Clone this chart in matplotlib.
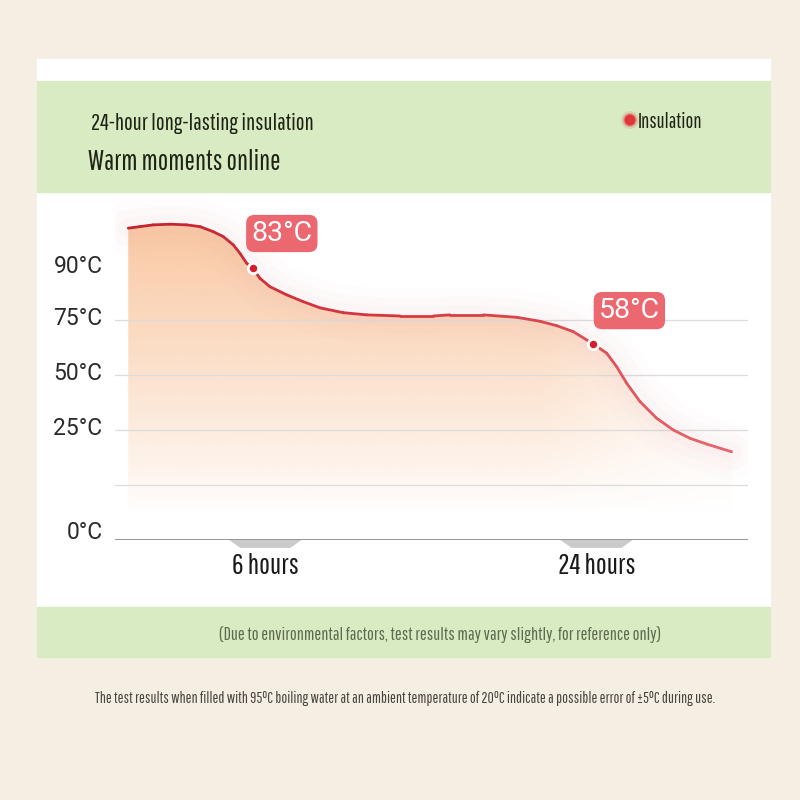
import numpy as np
import matplotlib
matplotlib.use('Agg')
import matplotlib.pyplot as plt
from matplotlib import font_manager
from matplotlib.collections import LineCollection
from matplotlib.colors import LinearSegmentedColormap
from matplotlib.patches import Rectangle, Polygon

# curve (x in hours, y in chart units: grid lines at 25/50/75/100)
hours = [-1.45, -0.82, -0.09, 0.82, 1.72, 2.45, 3.17, 3.71, 4.26, 4.62, 4.98, 5.31,
         5.71, 6.25, 7.16, 8.06, 8.97, 10.23, 11.52, 13.32, 15.13, 16.03, 17.84,
         19.66, 20.92, 21.83, 22.73, 23.82, 24.55, 25.09, 25.64, 26.36, 27.27,
         28.17, 29.08, 29.98, 31.34]
level = [141.7, 142.4, 143.2, 143.5, 143.2, 142.4, 140.1, 137.9, 134.1, 130.3, 125.8, 123.5,
         118.9, 115.1, 111.4, 108.3, 105.5, 103.3, 102.3, 101.8, 101.8, 102.3, 102.3,
         101.2, 99.4, 97.4, 94.7, 89.1, 84.9, 78.8, 71.2, 62.9, 55.3,
         50.0, 46.2, 43.6, 40.1]

grid_levels = [25, 50, 75, 100]
tick_pos = [4.5, 51.8, 76.8, 101.8, 125.4]
tick_labels = ['0°C', '25°C', '50°C', '75°C', '90°C']

x_ticks = [6, 24]
x_labels = ['6 hours', '24 hours']

marks_x = [5.31, 23.82]
marks_y = [123.5, 89.1]
marks_text = ['83°C', '58°C']

# a condensed face, whichever is installed
names = {f.name for f in font_manager.fontManager.ttflist}
cond = 'DejaVu Sans'
for cand in ['Pathway Gothic One', 'Saira Condensed', 'Barlow Condensed', 'Roboto Condensed',
             'Oswald', 'Archivo Narrow', 'PT Sans Narrow']:
    if cand in names:
        cond = cand
        break
plain = 'Roboto' if 'Roboto' in names else 'DejaVu Sans'
plt.rcParams['font.family'] = [cond, 'DejaVu Sans']

fig = plt.figure(figsize=(8, 8), dpi=100)
fig.patch.set_facecolor('#F5EEE3')
renderer = fig.canvas.get_renderer()


def fit(t, width):
    # scale font so the text is `width` pixels wide
    bb = t.get_window_extent(renderer)
    t.set_fontsize(t.get_fontsize() * width / bb.width)


# background layer in pixel coordinates
bg = fig.add_axes([0, 0, 1, 1])
bg.set_xlim(0, 800)
bg.set_ylim(800, 0)
bg.axis('off')
bg.add_patch(Rectangle((37, 59), 733, 598, color='white', zorder=0))
bg.add_patch(Rectangle((37, 81), 733, 111, color='#D8EBC3', zorder=1))
bg.add_patch(Rectangle((37, 607), 733, 50, color='#D8EBC3', zorder=1))

t1 = bg.text(91, 123, '24-hour long-lasting insulation', fontsize=14, color='#1E2414',
             va='center', ha='left')
fit(t1, 224)
t2 = bg.text(88, 162, 'Warm moments online', fontsize=16, color='#1E2414',
             va='center', ha='left')
fit(t2, 194)
for r, a in [(9, 0.12), (7, 0.3), (5.5, 0.85)]:
    bg.add_patch(plt.Circle((630, 120), r, color='#E5242F', alpha=a, lw=0, zorder=2))
t3 = bg.text(638, 122, 'Insulation', fontsize=12, color='#1E2414', va='center', ha='left', zorder=3)
fit(t3, 64)

t4 = bg.text(440, 635, '(Due to environmental factors, test results may vary slightly, for reference only)',
             fontsize=10.5, color='#5F6B4E', va='center', ha='center')
fit(t4, 446)
t5 = bg.text(405, 698, 'The test results when filled with 95°C boiling water at an ambient temperature '
             'of 20°C indicate a possible error of ±5°C during use.',
             fontsize=7.6, color='#4A4440', va='center', ha='center')
fit(t5, 614)

# chart axes
ax = fig.add_axes([115 / 800, 260 / 800, 633 / 800, 340 / 800])
ax.patch.set_alpha(0)
ax.set_xlim(-2.17, 32.23)
ax.set_ylim(0, 154.5)
for s in ax.spines.values():
    s.set_visible(False)
ax.axhline(0, color='#8C8C8C', lw=1.3, zorder=2)
for g in grid_levels:
    ax.axhline(g, color='#DCDCDC', lw=0.9, zorder=2)

ax.set_yticks(tick_pos)
ax.set_yticklabels(tick_labels, family=[plain, 'DejaVu Sans'], fontsize=16.5, color='#2A2A2A')
ax.tick_params(axis='y', length=0, pad=9)
ax.set_xticks(x_ticks)
ax.set_xticklabels(x_labels, fontsize=16, color='#1A1A1A')
ax.tick_params(axis='x', length=0, pad=9)
lab6 = ax.get_xticklabels()[0]
bb = lab6.get_window_extent(renderer)
xs = 16 * 67 / bb.width
for lab in ax.get_xticklabels():
    lab.set_fontsize(xs)

# grey tabs under the x labels
for xt in x_ticks:
    tab = Polygon([(xt - 1.96, 0), (xt + 1.96, 0), (xt + 1.36, -3.6), (xt - 1.36, -3.6)],
                  closed=True, color='#CACACA', lw=0, clip_on=False, zorder=0.5)
    ax.add_patch(tab)

# gradient fill under the curve
X, Y = np.meshgrid(np.linspace(-2.17, 32.23, 300), np.linspace(0, 154.5, 300))
vert = np.clip((Y - 12) / 125, 0, 1) ** 0.85
horiz = np.clip(1 - (X - 21) / 13, 0.3, 1)
img = np.zeros(X.shape + (4,))
img[..., 0] = 249 / 255
img[..., 1] = 194 / 255
img[..., 2] = 152 / 255
img[..., 3] = 0.85 * vert * horiz
im = ax.imshow(img, extent=[-2.17, 32.23, 0, 154.5], origin='lower', aspect='auto', zorder=1)
poly = ax.fill_between(hours, level, 0, color='none', lw=0)
im.set_clip_path(poly.get_paths()[0], transform=ax.transData)

# soft pink haze around the line
for w, a in [(40, 0.025), (26, 0.03), (14, 0.04)]:
    ax.plot(hours, level, color='#F4A0A6', lw=w, alpha=a, solid_capstyle='round', zorder=3)

# line with red to pink gradient
pts = np.column_stack([hours, level])
segs = np.stack([pts[:-1], pts[1:]], axis=1)
cmap = LinearSegmentedColormap.from_list('rp', ['#C3232C', '#D43640', '#E8636B'])
lc = LineCollection(segs, cmap=cmap, lw=2.0, zorder=4, capstyle='round', joinstyle='round')
lc.set_array(np.linspace(0, 1, len(segs)))
ax.add_collection(lc)

# points and value boxes
ax.scatter(marks_x, marks_y, s=55, color='#D21F2C', edgecolor='white', lw=2, zorder=5)
offsets = [(-1, 25), (4, 24)]
for mx, my, t, off in zip(marks_x, marks_y, marks_text, offsets):
    ax.annotate(t, (mx, my), xytext=off, textcoords='offset points',
                fontsize=20.5, color='white', family=[plain, 'DejaVu Sans'], ha='left', va='center',
                bbox=dict(boxstyle='round,pad=0.18,rounding_size=0.3', fc='#EC6870', ec='none'),
                zorder=6)

fig.savefig('out.png', dpi=100, facecolor=fig.get_facecolor())
